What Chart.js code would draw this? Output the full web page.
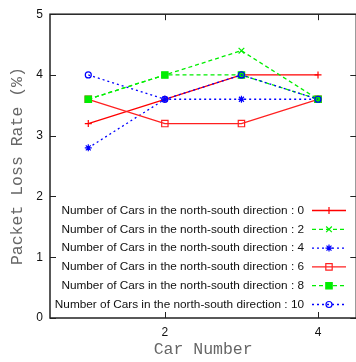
<!DOCTYPE html>
<html>
<head>
<meta charset="utf-8">
<script src="https://cdn.jsdelivr.net/npm/chart.js@4.4.1/dist/chart.umd.min.js"></script>
<style>
  html, body { margin: 0; padding: 0; overflow: hidden; background: #fff; }
  canvas { display: block; }
</style>
</head>
<body>
<canvas id="chart" width="362" height="362"></canvas>
<script>
// car numbers on the x axis
var carNumbers = [1, 2, 3, 4];
var seriesLabels = [
    "Number of Cars in the north-south direction : 0",
    "Number of Cars in the north-south direction : 2",
    "Number of Cars in the north-south direction : 4",
    "Number of Cars in the north-south direction : 6",
    "Number of Cars in the north-south direction : 8",
    "Number of Cars in the north-south direction : 10"
];
// packet loss rate (%) per series
var ns0 = [3.2, 3.6, 4.0, 4.0];
var ns2 = [3.6, 4.0, 4.4, 3.6];
var ns4 = [2.8, 3.6, 3.6, 3.6];
var ns6 = [3.6, 3.2, 3.2, 3.6];
var ns8 = [3.6, 4.0, 4.0, 3.6];
var ns10 = [4.0, 3.6, 4.0, 3.6];
var xTicks = [2, 4];
var yTicks = [0, 1, 2, 3, 4, 5];

var seriesValues = [ns0, ns2, ns4, ns6, ns8, ns10];
var styles = [
    { color: "#ff0000", dash: [], point: "cross", radius: 3.5, fill: false },
    { color: "#00ee00", dash: [4, 3], point: "crossRot", radius: 4, fill: false },
    { color: "#0000ff", dash: [2, 3], point: "star", radius: 3.5, fill: false },
    { color: "#ff2020", dash: [], point: "rect", radius: 4.5, fill: false },
    { color: "#00ee00", dash: [4, 3], point: "rect", radius: 4.5, fill: true },
    { color: "#0000ff", dash: [2, 3], point: "circle", radius: 3, fill: false }
];

function toPoints(values) {
    var pts = [];
    for (var i = 0; i < carNumbers.length; i++) {
        pts.push({ x: carNumbers[i], y: values[i] });
    }
    return pts;
}

var datasets = [];
seriesValues.forEach(function(values, i) {
    var s = styles[i];
    datasets.push({
        label: seriesLabels[i],
        data: toPoints(values),
        borderColor: s.color,
        backgroundColor: s.fill ? s.color : "rgba(0,0,0,0)",
        borderWidth: 1.3,
        borderDash: s.dash,
        pointStyle: s.point,
        pointRadius: s.radius,
        pointBorderWidth: 1.2,
        pointBorderColor: s.color,
        pointBackgroundColor: s.fill ? s.color : "rgba(0,0,0,0)",
        tension: 0,
        order: 10 - i
    });
});

// gnuplot-like frame with inward ticks
var framePlugin = {
    id: "frame",
    beforeDatasetsDraw: function(chart) {
        var ctx = chart.ctx;
        var a = chart.chartArea;
        var xs = chart.scales.x, ys = chart.scales.y;
        ctx.save();
        ctx.strokeStyle = "#222";
        ctx.lineWidth = 1.5;
        ctx.strokeRect(a.left, a.top, a.right - a.left, a.bottom - a.top);
        ctx.lineWidth = 1;
        ctx.beginPath();
        yTicks.forEach(function(v) {
            var y = Math.round(ys.getPixelForValue(v)) + 0.5;
            ctx.moveTo(a.left, y); ctx.lineTo(a.left + 6, y);
            ctx.moveTo(a.right, y); ctx.lineTo(a.right - 6, y);
        });
        xTicks.forEach(function(v) {
            var x = Math.round(xs.getPixelForValue(v)) + 0.5;
            ctx.moveTo(x, a.bottom); ctx.lineTo(x, a.bottom - 6);
            ctx.moveTo(x, a.top); ctx.lineTo(x, a.top + 6);
        });
        ctx.stroke();
        ctx.restore();
    },
    afterDatasetsDraw: function(chart) {
        var ctx = chart.ctx;
        ctx.save();
        ctx.font = "11.8px 'Liberation Sans', Arial, sans-serif";
        ctx.textAlign = "right";
        ctx.textBaseline = "middle";
        chart.data.datasets.forEach(function(ds, i) {
            var y = 210.5 + i * 18.8;
            ctx.fillStyle = "#111";
            ctx.fillText(ds.label, 304, y);
            ctx.strokeStyle = ds.borderColor;
            ctx.lineWidth = 1.3;
            ctx.setLineDash(ds.borderDash);
            ctx.beginPath();
            ctx.moveTo(312, y); ctx.lineTo(346, y);
            ctx.stroke();
            ctx.setLineDash([]);
            ctx.fillStyle = ds.pointBackgroundColor;
            ctx.lineWidth = 1.2;
            Chart.helpers.drawPoint(ctx, {
                pointStyle: ds.pointStyle,
                radius: ds.pointRadius,
                borderWidth: 1.2,
                rotation: 0
            }, 329, y);
        });
        ctx.restore();
    }
};

var ctx = document.getElementById("chart").getContext("2d");
new Chart(ctx, {
    type: "line",
    data: { datasets: datasets },
    options: {
        responsive: false,
        animation: false,
        devicePixelRatio: 1,
        layout: { padding: { top: 9, right: 1, bottom: 0, left: 0 } },
        plugins: { legend: { display: false }, tooltip: { enabled: false } },
        scales: {
            x: {
                type: "linear",
                min: 0.5,
                max: 4.5,
                afterBuildTicks: function(scale) {
                    scale.ticks = xTicks.map(function(v) { return { value: v }; });
                },
                afterFit: function(scale) { scale.height = 44; },
                grid: { display: false, drawTicks: false },
                border: { display: false },
                ticks: {
                    padding: 7,
                    color: "#111",
                    font: { family: "'Liberation Sans', Arial, sans-serif", size: 12 }
                },
                title: {
                    display: true,
                    text: "Car Number",
                    color: "#666",
                    padding: { top: 0, bottom: 2.4 },
                    font: { family: "'Liberation Mono', 'DejaVu Sans Mono', monospace", size: 16.5 }
                }
            },
            y: {
                min: 0,
                max: 5,
                afterBuildTicks: function(scale) {
                    scale.ticks = yTicks.map(function(v) { return { value: v }; });
                },
                afterFit: function(scale) { scale.width = 50; },
                grid: { display: false, drawTicks: false },
                border: { display: false },
                ticks: {
                    padding: 7,
                    color: "#111",
                    font: { family: "'Liberation Sans', Arial, sans-serif", size: 12 }
                },
                title: {
                    display: true,
                    text: "Packet Loss Rate (%)",
                    color: "#666",
                    padding: { top: 7.4, bottom: 0 },
                    font: { family: "'Liberation Mono', 'DejaVu Sans Mono', monospace", size: 16.5 }
                }
            }
        }
    },
    plugins: [framePlugin]
});
</script>
</body>
</html>
